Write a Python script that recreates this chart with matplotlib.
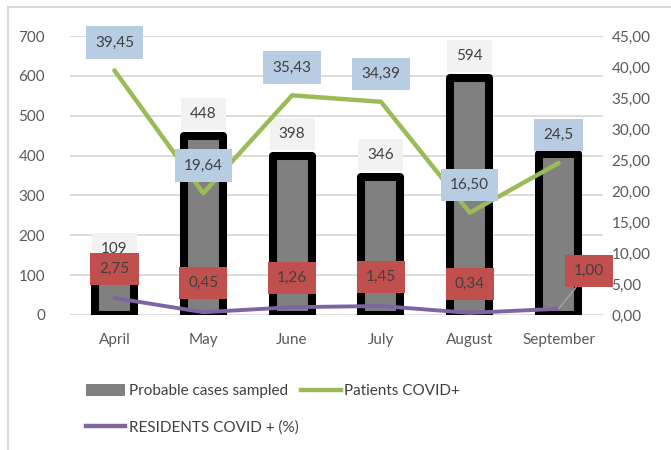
import matplotlib.pyplot as plt
from matplotlib.lines import Line2D
from matplotlib.patches import Patch
from matplotlib.ticker import FuncFormatter, MultipleLocator

plt.rcParams['font.family'] = ['Lato', 'DejaVu Sans']

months = ["April", "May", "June", "July", "August", "September"]
cases_sampled = [109, 448, 398, 346, 594, 405]
patients_covid = [39.45, 19.64, 35.43, 34.39, 16.50, 24.5]
patients_labels = ["39,45", "19,64", "35,43", "34,39", "16,50", "24,5"]
residents_covid = [2.75, 0.45, 1.26, 1.45, 0.34, 1.00]
residents_labels = ["2,75", "0,45", "1,26", "1,45", "0,34", "1,00"]
cases_labels = ["109", "448", "398", "346", "594", None]

TXT = "#404040"
TICK = "#595959"
GREEN = "#9BBB59"
PURPLE = "#8064A2"

fig = plt.figure(figsize=(6.71, 4.5), dpi=100)
ax = fig.add_axes([70 / 671, 1 - 315 / 450, 533 / 671, 279 / 450])
ax2 = ax.twinx()

x = list(range(len(months)))
ax.bar(x, cases_sampled, width=0.44, color="#808080", edgecolor="black",
       linewidth=5.8, joinstyle="round", zorder=2)
ax.set_ylim(0, 700)
ax.set_xlim(-0.5, 5.5)
ax.yaxis.set_major_locator(MultipleLocator(100))
ax.grid(axis="y", color="#D9D9D9", linewidth=1.3, zorder=0)
ax.set_axisbelow(True)
ax.set_xticks(x)
ax.set_xticklabels(months)

ax2.plot(x, patients_covid, color=GREEN, linewidth=3.2, solid_capstyle="round", zorder=3)
ax2.plot(x, residents_covid, color=PURPLE, linewidth=2.8, solid_capstyle="round", zorder=3)
ax2.set_ylim(0, 45)
ax2.yaxis.set_major_locator(MultipleLocator(5))
ax2.yaxis.set_major_formatter(FuncFormatter(lambda v, p: f"{v:.2f}".replace(".", ",")))

for a in (ax, ax2):
    for s in a.spines.values():
        s.set_visible(False)
    a.tick_params(length=0, labelsize=11, labelcolor=TICK)
ax.tick_params(axis="y", pad=18)
ax.tick_params(axis="x", pad=13)
ax2.tick_params(axis="y", pad=6)

# bar labels
for i, lab in enumerate(cases_labels):
    if lab is None:
        continue
    ax.annotate(lab, (i, cases_sampled[i]), xytext=(0, 16), textcoords="offset points",
                ha="center", va="center", fontsize=11, color=TXT, zorder=5,
                bbox=dict(boxstyle="square,pad=0.6", fc="#F2F2F2", ec="none"))

for i, lab in enumerate(patients_labels):
    ax2.annotate(lab, (i, patients_covid[i]), xytext=(0, 20), textcoords="offset points",
                 ha="center", va="center", fontsize=11, color=TXT, zorder=6,
                 bbox=dict(boxstyle="square,pad=0.6", fc="#B8CCE4", ec="none"))

for i, lab in enumerate(residents_labels):
    if i == len(residents_labels) - 1:
        ax2.annotate(lab, (i, residents_covid[i]), xytext=(22, 27), textcoords="offset points",
                     ha="center", va="center", fontsize=11, color=TXT, zorder=6,
                     bbox=dict(boxstyle="square,pad=0.6", fc="#C0504D", ec="none"),
                     arrowprops=dict(arrowstyle="-", color="#A6A6A6", lw=1, shrinkA=0, shrinkB=0))
    else:
        ax2.annotate(lab, (i, residents_covid[i]), xytext=(0, 21), textcoords="offset points",
                     ha="center", va="center", fontsize=11, color=TXT, zorder=6,
                     bbox=dict(boxstyle="square,pad=0.6", fc="#C0504D", ec="none"))

handles = [Patch(facecolor="#808080", edgecolor="none"),
           Line2D([], [], color=PURPLE, linewidth=3.2),
           Line2D([], [], color=GREEN, linewidth=3.2)]
labels = ["Probable cases sampled", "RESIDENTS COVID + (%)", "Patients COVID+"]
fig.legend(handles, labels, ncol=2, loc="upper left", bbox_to_anchor=(72 / 671, 1 - 370 / 450),
           frameon=False, fontsize=11, labelcolor=TXT, handlelength=2.6, handletextpad=0.2,
           columnspacing=0.2, labelspacing=1.4, handleheight=0.9)

# chart area border
fig.add_artist(Line2D([8 / 671, 8 / 671], [0, 1 - 7 / 450], color="#D9D9D9", lw=1.5,
                      transform=fig.transFigure))
fig.add_artist(Line2D([8 / 671, 1], [1 - 7 / 450, 1 - 7 / 450], color="#D9D9D9", lw=1.5,
                      transform=fig.transFigure))

fig.savefig("out.png", dpi=100)
